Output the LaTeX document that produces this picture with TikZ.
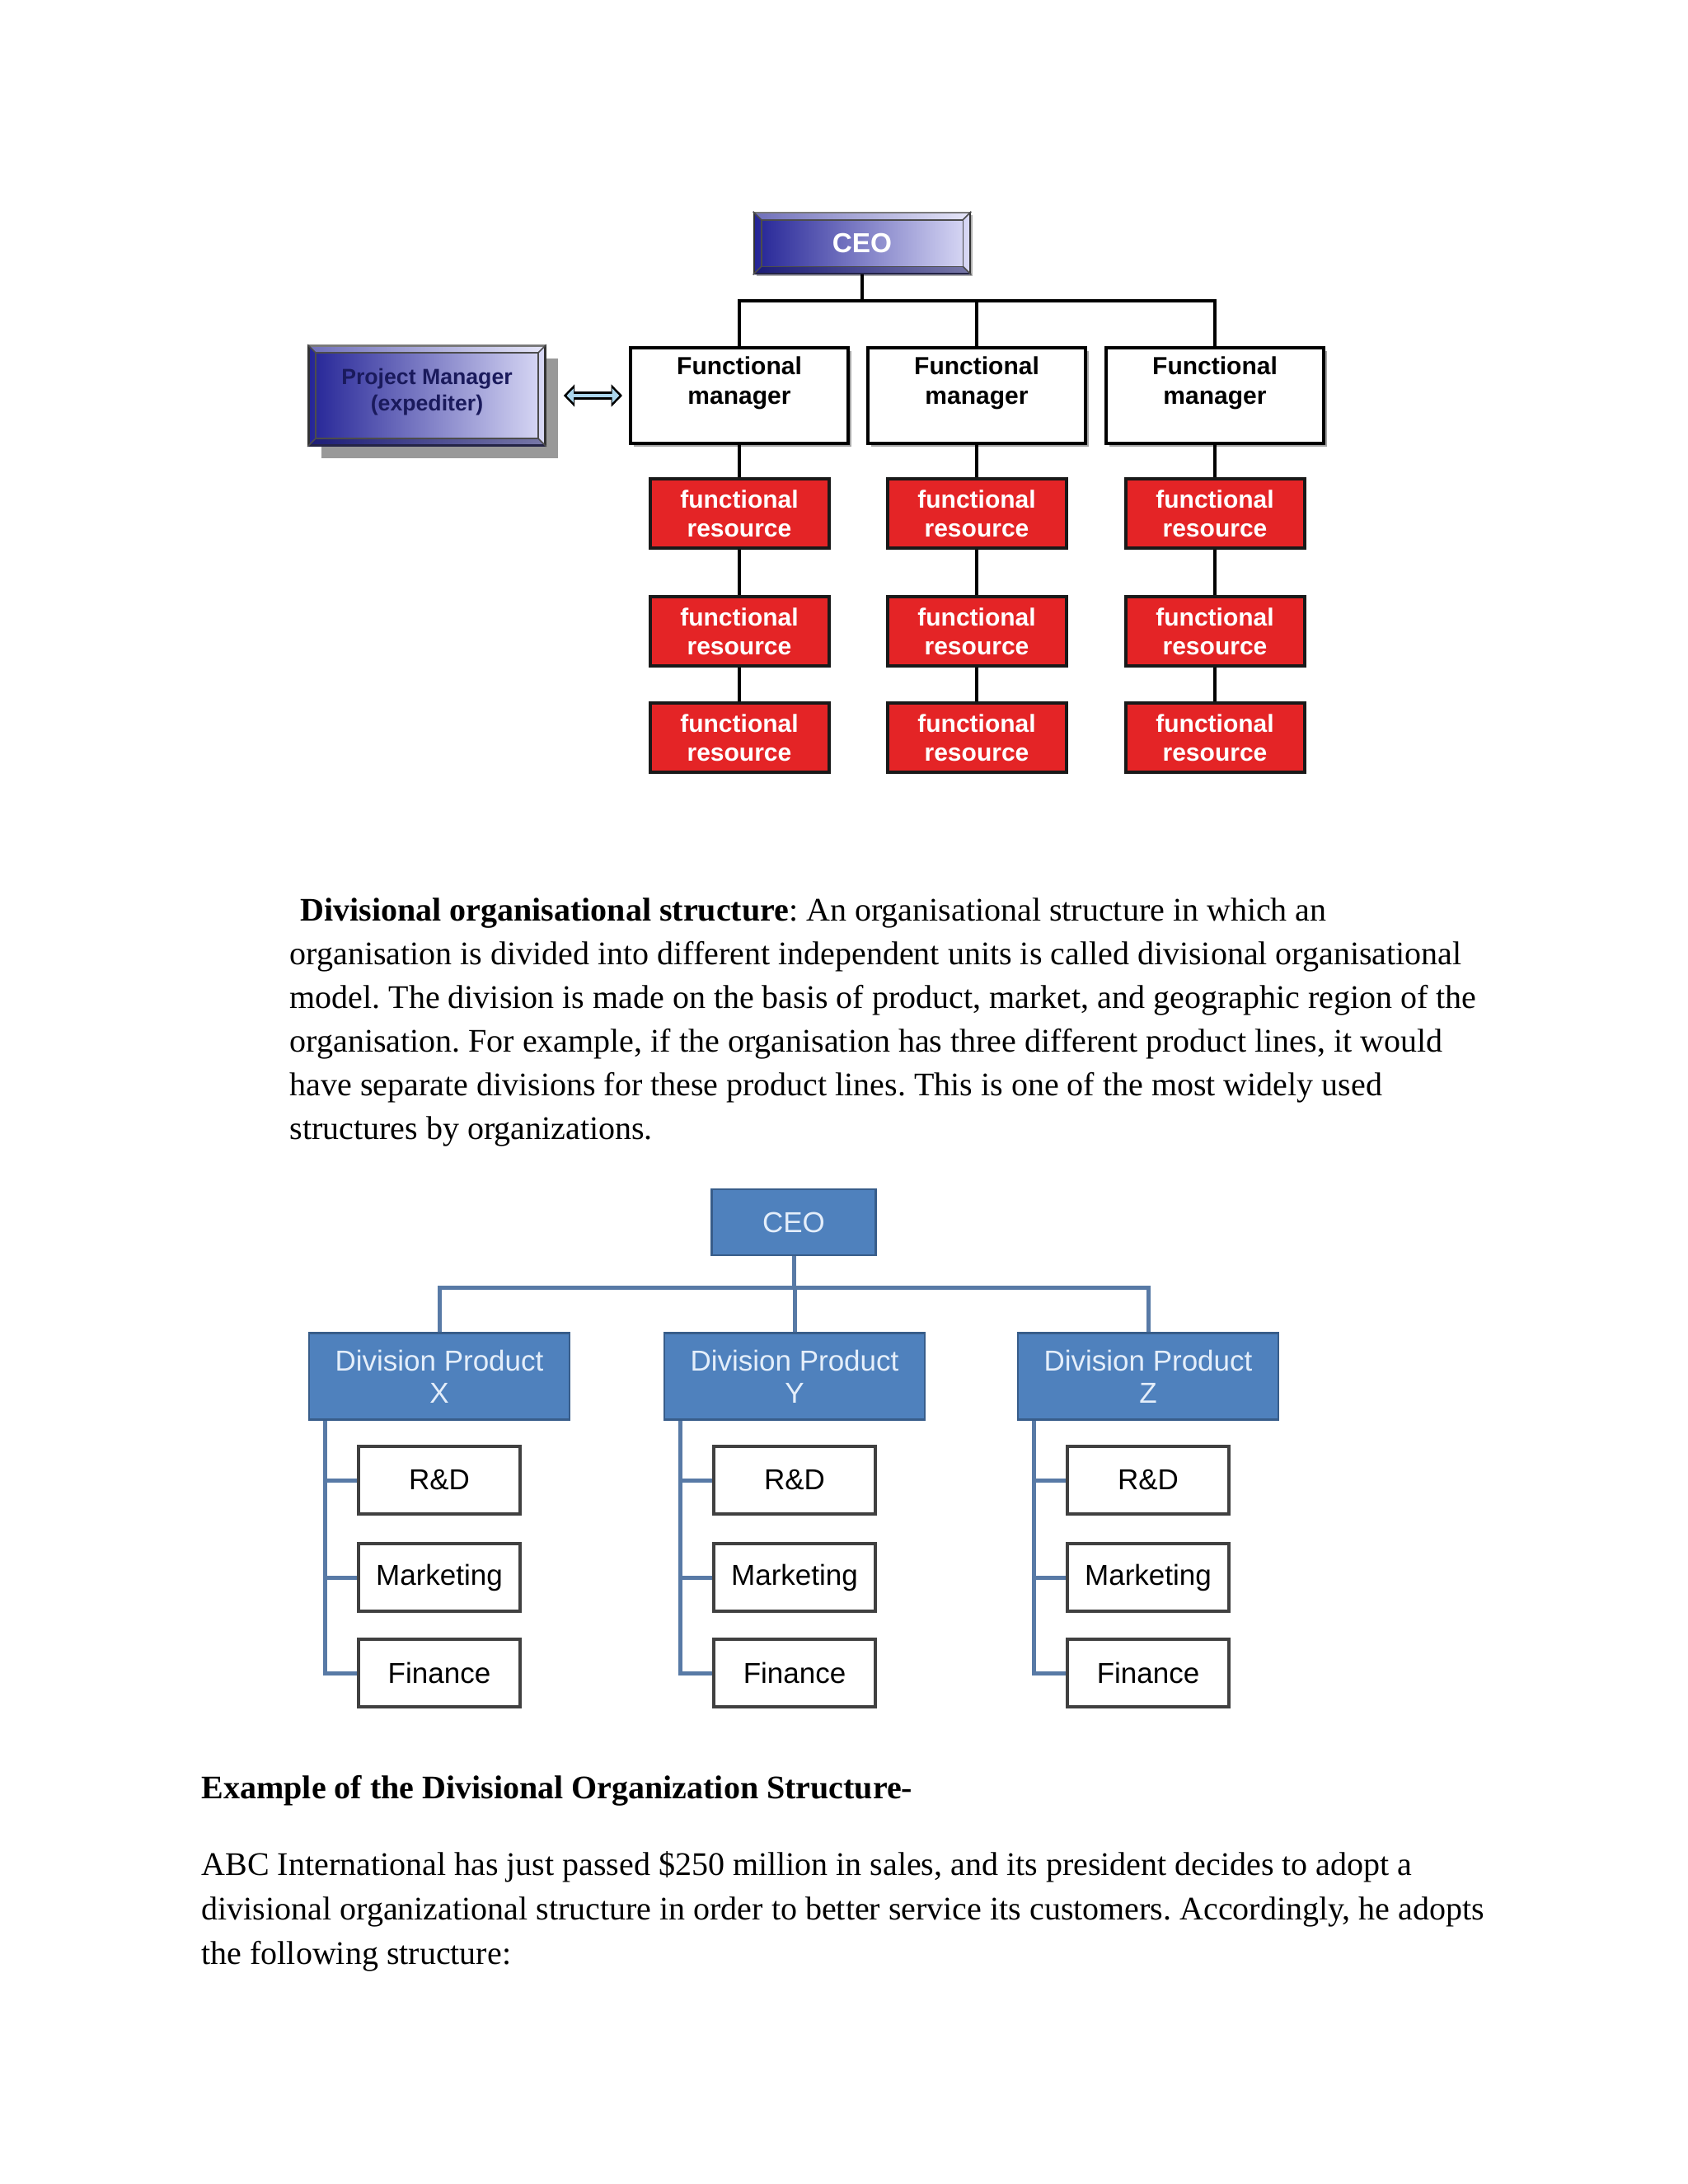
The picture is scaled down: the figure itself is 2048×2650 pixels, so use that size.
\documentclass[tikz,border=0pt]{standalone}
\usepackage{fontspec}
\setmainfont{Liberation Serif}
\setsansfont{Liberation Sans}
\usetikzlibrary{arrows.meta}
\usetikzlibrary{shadows}
\frenchspacing

\definecolor{navyL}{RGB}{36,36,150}
\definecolor{navyR}{RGB}{218,218,246}
\definecolor{resred}{RGB}{228,36,38}
\definecolor{divblue}{RGB}{79,129,189}
\definecolor{divedge}{RGB}{56,93,138}
\definecolor{divline}{RGB}{88,122,166}
\definecolor{divtext}{RGB}{228,238,250}
\definecolor{pmtext}{RGB}{26,26,92}
\definecolor{arrowfill}{RGB}{172,214,236}

\tikzset{
  beveled/.style={draw=black!80, line width=0.8pt, left color=navyL, right color=navyR, inner sep=0pt, align=center},
  fmbox/.style={draw=black, line width=1.2pt, fill=white, minimum width=79.2pt, minimum height=34.8pt, inner sep=0pt, align=center,
    font=\sffamily\bfseries\fontsize{9}{10.8}\selectfont, drop shadow={shadow xshift=1.2pt, shadow yshift=-1.2pt, fill=black!35, opacity=1}},
  resbox/.style={draw=black!90, line width=1.2pt, fill=resred, text=white, minimum width=65.1pt, minimum height=25.2pt, inner sep=0pt, align=center,
    font=\sffamily\bfseries\fontsize{9}{10.6}\selectfont},
  tline/.style={draw=black, line width=1.2pt},
  divbox/.style={draw=divedge, line width=0.7pt, fill=divblue, text=divtext, inner sep=0pt, align=center,
    font=\sffamily\fontsize{10.5}{11.7}\selectfont},
  unitbox/.style={draw=black!75, line width=1.2pt, fill=white, minimum width=58.8pt, minimum height=24.6pt, inner sep=0pt,
    font=\sffamily\fontsize{10.5}{12}\selectfont},
  bline/.style={draw=divline, line width=1.5pt},
  txt/.style={anchor=base west, inner sep=0pt, font=\fontsize{12}{15.9}\selectfont},
}

\begin{document}
\begin{tikzpicture}[x=0.3pt,y=-0.3pt]
    \useasboundingbox[fill=white] (0,0) rectangle (2048,2650);

    % matrix organisation
    \node[beveled, minimum width=78.6pt, minimum height=22.2pt, text=white, font=\sffamily\bfseries\fontsize{10}{12}\selectfont,
      drop shadow={shadow xshift=1pt, shadow yshift=-1pt, fill=black!30, opacity=1}] (ceoA) at (1046,295) {CEO};
    \node[beveled, minimum width=86.1pt, minimum height=36.3pt, text=pmtext, font=\sffamily\bfseries\fontsize{8}{9.6}\selectfont,
      drop shadow={shadow xshift=4.5pt, shadow yshift=-4.5pt, fill=black!40, opacity=1}] (pm) at (518,480) {Project Manager\\(expediter)\rule[-4.5pt]{0pt}{0pt}};

    \foreach \n in {ceoA,pm} {
      \fill[white,opacity=.35] (\n.north west) -- (\n.north east) -- ([shift={(-3pt,-3pt)}]\n.north east) -- ([shift={(3pt,-3pt)}]\n.north west) -- cycle;
      \fill[navyL!60!black,opacity=.5] (\n.south west) -- (\n.south east) -- ([shift={(-3pt,3pt)}]\n.south east) -- ([shift={(3pt,3pt)}]\n.south west) -- cycle;
      \draw[black!70, line width=0.5pt] ([shift={(3pt,-3pt)}]\n.north west) rectangle ([shift={(-3pt,3pt)}]\n.south east);
      \draw[black!70, line width=0.5pt] (\n.north west) -- ++(3pt,-3pt) (\n.north east) -- ++(-3pt,-3pt)
        (\n.south west) -- ++(3pt,3pt) (\n.south east) -- ++(-3pt,3pt);
    }

    \foreach \c/\x in {1/897,2/1185,3/1474} {
      \node[fmbox] (fm\c) at (\x,480) {Functional\\manager\\~};
      \foreach \r/\y in {1/623,2/766,3/895}
        \node[resbox] (r\c\r) at (\x,\y) {functional\\resource};
    }

    \coordinate (barA) at (1046,365);
    \draw[tline] (ceoA.south) -- (barA);
    \draw[tline] (fm1.north) |- (fm3.north |- barA) -- (fm3.north);
    \draw[tline] (fm2.north) -- (fm2.north |- barA);
    \foreach \c in {1,2,3}
      \draw[tline] (fm\c.south) -- (r\c1.north) (r\c1.south) -- (r\c2.north) (r\c2.south) -- (r\c3.north);

    \draw[line width=3.2pt, {Triangle[length=4pt,width=8pt]}-{Triangle[length=4pt,width=8pt]}, shorten <=6.3pt, shorten >=2.4pt] (pm.east) -- (fm1.west);
    \draw[arrowfill, line width=1.3pt, {Triangle[length=2.6pt,width=5.2pt]}-{Triangle[length=2.6pt,width=5.2pt]}, shorten <=7.4pt, shorten >=3.5pt] (pm.east) -- (fm1.west);

    % first paragraph
    \node[txt] (p1a) at (364,1117) {\textbf{Divisional organisational structure}: An organisational structure in which an};
    \node[txt] (p1b) at (351,1170) {organisation is divided into different independent units is called divisional organisational};
    \node[txt] (p1c) at (351,1223) {model. The division is made on the basis of product, market, and geographic region of the};
    \node[txt] (p1d) at (351,1276) {organisation. For example, if the organisation has three different product lines, it would};
    \node[txt] (p1e) at (351,1329) {have separate divisions for these product lines. This is one of the most widely used};
    \node[txt] (p1f) at (351,1382) {structures by organizations.};

    % divisional organisation
    \node[divbox, minimum width=59.7pt, minimum height=24pt] (ceoB) at (963,1483) {CEO};
    \foreach \c/\x/\lab in {1/533/X,2/964/Y,3/1393/Z} {
      \node[divbox, minimum width=94.8pt, minimum height=31.5pt] (dv\c) at (\x,1670) {Division Product\\\lab};
      \foreach \r/\y/\t in {1/1796/R\&D,2/1914/Marketing,3/2030/Finance}
        \node[unitbox] (u\c\r) at (\x,\y) {\t};
    }

    \coordinate (barB) at (963,1562);
    \draw[bline] (ceoB.south) -- (barB);
    \draw[bline] (dv1.north) |- (dv3.north |- barB) -- (dv3.north);
    \draw[bline] (dv2.north) -- (dv2.north |- barB);
    \foreach \c in {1,2,3} {
      \coordinate (sp\c) at ([xshift=6.3pt]dv\c.south west);
      \draw[bline] (sp\c) |- (u\c3.west);
      \draw[bline] (sp\c |- u\c1.west) -- (u\c1.west);
      \draw[bline] (sp\c |- u\c2.west) -- (u\c2.west);
    }

    % second paragraph
    \node[txt] (p2h) at (244,2182) {\textbf{Example of the Divisional Organization Structure-}};
    \node[txt] (p2a) at (244,2275) {ABC International has just passed \$250 million in sales, and its president decides to adopt a};
    \node[txt] (p2b) at (244,2329) {divisional organizational structure in order to better service its customers. Accordingly, he adopts};
    \node[txt] (p2c) at (244,2383) {the following structure:};
\end{tikzpicture}
\end{document}
